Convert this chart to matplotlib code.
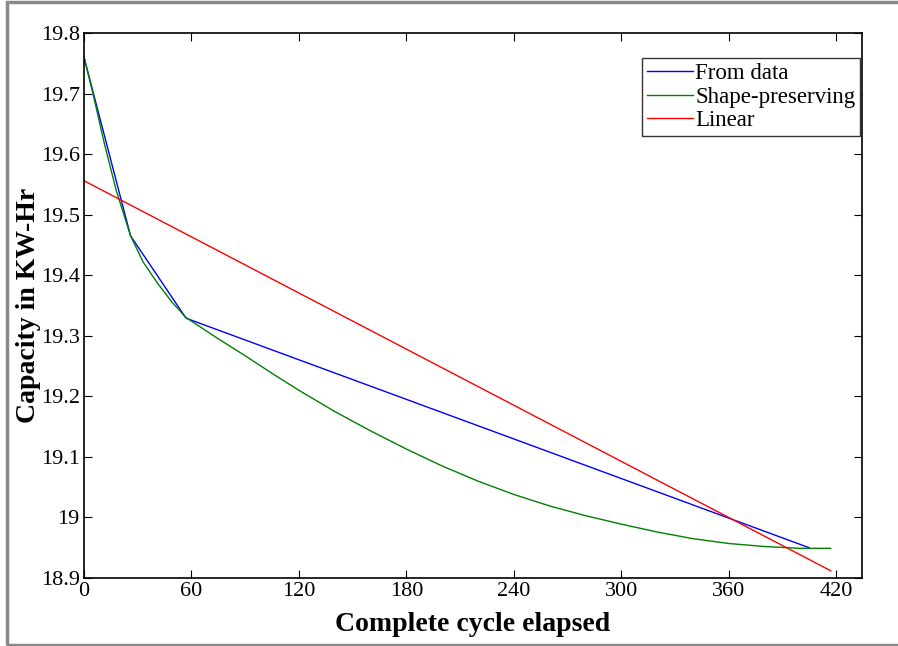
import matplotlib.pyplot as plt
from matplotlib.patches import Rectangle

plt.rcParams['font.family'] = ['Liberation Serif', 'DejaVu Serif']

# measured capacity (from data)
data_x = [0, 26, 57, 405]
data_y = [19.76, 19.465, 19.329, 18.95]

# shape-preserving curve
shape_x = [0, 5, 11, 18, 26, 33, 41, 49, 57, 75, 90, 105, 120, 140, 160, 180,
           200, 220, 240, 260, 280, 300, 320, 340, 360, 380, 400, 417]
shape_y = [19.76, 19.70, 19.622, 19.54, 19.465, 19.422, 19.387, 19.356, 19.33,
           19.295, 19.267, 19.238, 19.21, 19.175, 19.143, 19.113, 19.085,
           19.06, 19.038, 19.019, 19.003, 18.989, 18.976, 18.965, 18.957,
           18.952, 18.949, 18.949]

# linear fit
lin_x = [0, 417]
lin_y = [19.556, 18.912]

xticks = [0, 60, 120, 180, 240, 300, 360, 420]
yticks = [18.9, 19.0, 19.1, 19.2, 19.3, 19.4, 19.5, 19.6, 19.7, 19.8]
ytick_labels = ['18.9', '19', '19.1', '19.2', '19.3', '19.4', '19.5', '19.6', '19.7', '19.8']

fig = plt.figure(figsize=(8.98, 6.46), dpi=100)
ax = fig.add_axes([84/898, 1 - 578/646, (862-84)/898, (578-33)/646])

ax.plot(data_x, data_y, color='#0000ff', lw=1, label='From data')
ax.plot(shape_x, shape_y, color='#008000', lw=1, label='Shape-preserving')
ax.plot(lin_x, lin_y, color='#ff0000', lw=1, label='Linear')

ax.set_xlim(0, 434.5)
ax.set_ylim(18.9, 19.8)
ax.set_xticks(xticks)
ax.set_yticks(yticks)
ax.set_yticklabels(ytick_labels)
ax.tick_params(direction='in', length=6, labelsize=16, top=True, right=True, pad=3)
for s in ax.spines.values():
    s.set_linewidth(1.2)

ax.set_xlabel('Complete cycle elapsed', fontsize=20, fontweight='bold', labelpad=8)
ax.set_ylabel('Capacity in KW-Hr', fontsize=20, fontweight='bold', labelpad=0)

leg = ax.legend(loc='upper right', bbox_to_anchor=(1.0, 0.958), fontsize=16.5,
                handlelength=2.0, handletextpad=0.1, borderpad=0.2,
                labelspacing=0.12, fancybox=False, framealpha=1, borderaxespad=0.1)
leg.get_frame().set_edgecolor('#333333')
leg.get_frame().set_linewidth(1.0)

# outer gray frame of the figure window
fig.patches.append(Rectangle((7/898, 1/646), 1.0, 1 - 3/646, transform=fig.transFigure,
                             fill=False, edgecolor='#888888', lw=2.5))

fig.savefig('out.png', dpi=100)
